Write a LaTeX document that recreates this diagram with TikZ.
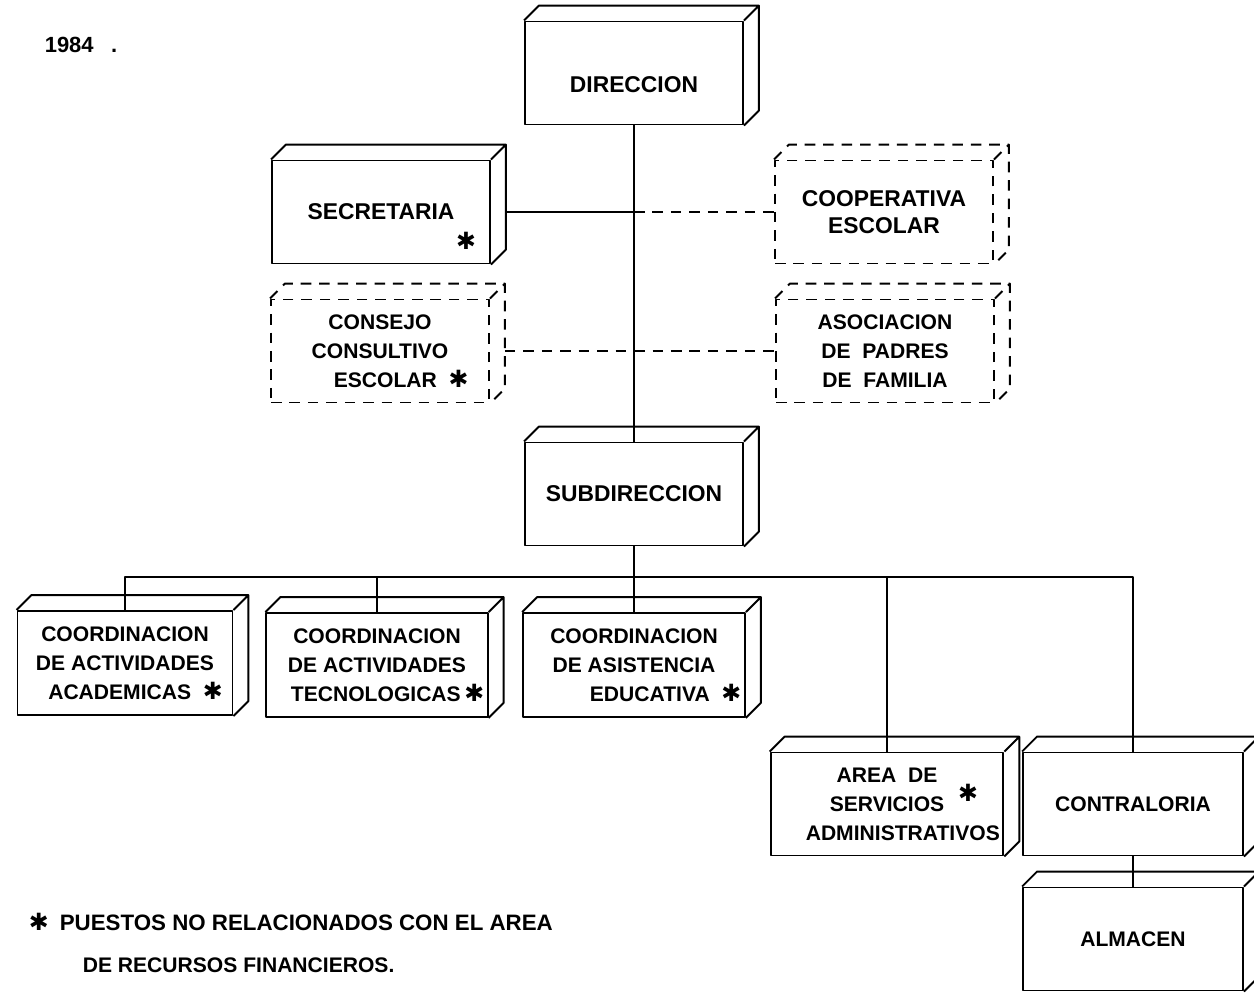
\documentclass[tikz,border=0pt]{standalone}
\usepackage{fontspec}
\setmainfont{Liberation Sans}
\newfontfamily\simbolo{DejaVu Sans}
\usepackage{tikz}
\usetikzlibrary{positioning}

\newcommand{\estr}{{\simbolo\mdseries\fontsize{13.5}{16}\selectfont ✱}}

\begin{document}
\begin{tikzpicture}[x=0.02cm, y=-0.02cm, line width=1.1pt, line join=round,
                    font=\bfseries\fontsize{12}{16.5}\selectfont,
                    linea guion/.style={dash pattern=on 6pt off 4.5pt},
                    caja/.style={draw, #1, align=center, inner sep=2pt,
                      minimum width=4.36cm, minimum height=2.06cm,
                      append after command={\pgfextra{
                        \draw[#1] (\tikzlastnode.north west) -- ++(15,-15)
                          -| ([shift={(15,-15)}]\tikzlastnode.south east) -- (\tikzlastnode.south east)
                          (\tikzlastnode.north east) -- ++(15,-15);}}},
                    caja/.default=solid,
                    arriba/.style={font=\bfseries\fontsize{13}{15}\selectfont},
                    abajo/.style={minimum width=4.3cm, minimum height=2.08cm}]
                    \useasboundingbox (0,0) rectangle (1254,994);
                    \clip (0,0) rectangle (1254,994);

                    % Year
                    \node[anchor=west, font=\bfseries\fontsize{12.5}{15}\selectfont] (anio) at (38,45) {1984\hspace{10pt}.};

                    % Top levels
                    \node[caja, arriba, text height=22pt] (dir) at (634,73) {DIRECCION};
                    \node[caja, arriba] (sec) at (381,212) {SECRETARIA};
                    \node (sec-ast) at (466,241) {\estr};
                    \node[caja=linea guion, arriba] (coop) at (884,212) {COOPERATIVA\\ESCOLAR};
                    \node[caja=linea guion] (cons) at (380,351) {CONSEJO\\CONSULTIVO\\\hspace*{2em}ESCOLAR \ \estr};
                    \node[caja=linea guion] (asoc) at (885,351) {ASOCIACION\\DE \ PADRES\\DE \ FAMILIA};
                    \node[caja, arriba] (sub) at (634,494) {SUBDIRECCION};

                    % Coordinations
                    \node[caja, abajo] (acad) at (125,663) {COORDINACION\\DE ACTIVIDADES\\\hspace*{1em}ACADEMICAS \ \estr};
                    \node[caja, abajo] (tec) at (377,665) {COORDINACION\\DE ACTIVIDADES\\\hspace*{1em}TECNOLOGICAS\,\estr};
                    \node[caja, abajo] (asis) at (634,665) {COORDINACION\\DE ASISTENCIA\\\hspace*{3em}EDUCATIVA \ \estr};

                    % Administration
                    \node[caja, minimum width=4.46cm] (area) at (887,804) {AREA \ DE\\SERVICIOS\\\hspace*{1.5em}ADMINISTRATIVOS};
                    \node (area-ast) at (968,793) {\estr};
                    \node[caja, minimum width=4.4cm] (contra) at (1133,804) {CONTRALORIA};
                    \node[caja, minimum width=4.4cm] (alm) at (1133,939) {ALMACEN};

                    % Connectors
                    \coordinate (cruce1) at (dir.south |- sec.east);
                    \coordinate (bus) at (634,577);
                    \draw (dir.south) -- (sub.north);
                    \draw ([xshift=0.3cm]sec.east) -- (cruce1);
                    \draw[linea guion] (cruce1) -- (coop.west);
                    \draw[linea guion] ([xshift=0.3cm]cons.east) -- (asoc.west);
                    \draw (sub.south) -- (asis.north);
                    \draw (acad.north) |- (contra.north |- bus) -- (contra.north);
                    \draw (tec.north) -- (tec.north |- bus);
                    \draw (area.north) -- (area.north |- bus);
                    \draw (contra.south) -- (alm.north);

                    % Note
                    \node[anchor=west, font=\bfseries\fontsize{12.7}{16}\selectfont] (nota1) at (22,922) {\estr\enspace PUESTOS NO RELACIONADOS CON EL AREA};
                    \node[anchor=west] (nota2) at (76,965) {DE RECURSOS FINANCIEROS.};
\end{tikzpicture}
\end{document}
